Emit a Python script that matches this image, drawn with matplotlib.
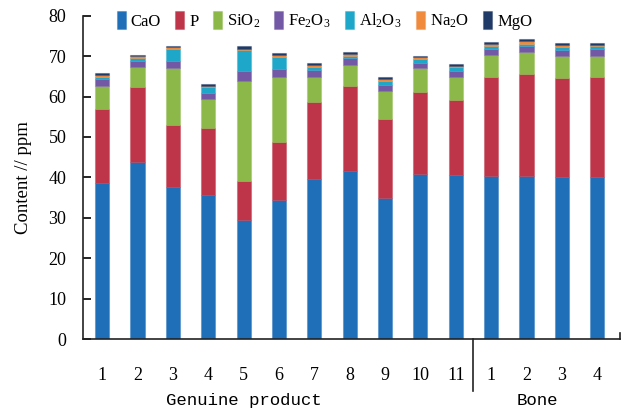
import numpy as np
import matplotlib
matplotlib.use("Agg")
import matplotlib.pyplot as plt
from matplotlib.transforms import blended_transform_factory

plt.rcParams['font.family'] = ['Liberation Serif', 'DejaVu Serif']
plt.rcParams['mathtext.fontset'] = 'custom'
plt.rcParams['mathtext.rm'] = 'Liberation Serif'
plt.rcParams['mathtext.it'] = 'Liberation Serif:italic'

tick_labels = ["1", "2", "3", "4", "5", "6", "7", "8", "9", "10", "11", "1", "2", "3", "4"]
groups = ["Genuine product", "Bone"]
series_names = ["CaO", "P", "SiO$_2$", "Fe$_2$O$_3$", "Al$_2$O$_3$", "Na$_2$O", "MgO"]

CaO   = [38.5, 43.7, 37.7, 35.6, 29.4, 34.4, 39.7, 41.5, 35.0, 40.8, 40.6, 40.4, 40.4, 40.1, 40.1]
P     = [18.3, 18.6, 15.3, 16.6,  9.7, 14.3, 18.9, 21.0, 19.5, 20.2, 18.6, 24.5, 25.2, 24.5, 24.7]
SiO2  = [ 5.8,  5.1, 14.1,  7.1, 24.8, 16.2,  6.3,  5.3,  6.9,  6.1,  5.7,  5.3,  5.3,  5.3,  5.2]
Fe2O3 = [ 1.8,  1.5,  1.6,  1.5,  2.3,  1.9,  1.7,  1.8,  1.5,  1.1,  1.5,  1.6,  1.6,  1.5,  1.7]
Al2O3 = [ 0.5,  0.6,  3.0,  1.5,  5.2,  2.9,  0.8,  0.5,  1.0,  1.1,  0.8,  0.8,  0.5,  0.8,  0.7]
Na2O  = [ 0.5,  0.4,  0.5,  0.3,  0.4,  0.6,  0.4,  0.4,  0.5,  0.4,  0.4,  0.4,  0.7,  0.5,  0.4]
MgO   = [ 0.4,  0.4,  0.4,  0.4,  0.6,  0.4,  0.5,  0.6,  0.4,  0.3,  0.5,  0.5,  0.5,  0.5,  0.5]

series = [CaO, P, SiO2, Fe2O3, Al2O3, Na2O, MgO]
colors = ["#1f6fb8", "#be3448", "#8cb84a", "#7359a5", "#1ea7c9", "#f08a3c", "#203a68"]

fig = plt.figure(figsize=(6.29, 4.12), dpi=100)
ax = fig.add_axes([0.132, 0.177, 0.854, 0.785])

x = np.arange(len(tick_labels))
bottom = np.zeros(len(x))
for name, vals, c in zip(series_names, series, colors):
    v = np.array(vals)
    ax.bar(x, v, width=0.4, bottom=bottom, color=c, label=name,
           edgecolor=matplotlib.colors.to_rgba(c, 0.35), linewidth=0.8)
    bottom += v

ax.set_xlim(-0.54, 14.65)
ax.set_ylim(0, 80)
ax.set_yticks(np.arange(0, 81, 10))
ax.tick_params(axis='y', direction='in', length=6, width=1.2, labelsize=13, pad=12)
ax.set_xticks(x)
ax.set_xticklabels(tick_labels)
ax.tick_params(axis='x', length=0, labelsize=13, pad=20)

for s in ['top', 'right']:
    ax.spines[s].set_visible(False)
for s in ['left', 'bottom']:
    ax.spines[s].set_linewidth(1.2)
    ax.spines[s].set_color('#222222')

ax.set_ylabel("Content // ppm", fontsize=13.5, labelpad=12)

trans = blended_transform_factory(ax.transData, ax.transAxes)
ax.plot([10.5, 10.5], [0, -0.16], transform=trans, color='#222222', lw=1.2, clip_on=False)
ax.plot([1, 1], [0, 0.02], transform=ax.transAxes, color='#222222', lw=1.2, clip_on=False)

ax.text(4, -0.19, groups[0], transform=trans, ha='center', va='center',
        fontsize=12.5, family=['Liberation Mono', 'DejaVu Sans Mono'])
ax.text(12.3, -0.19, groups[1], transform=trans, ha='center', va='center',
        fontsize=12.5, family=['Liberation Mono', 'DejaVu Sans Mono'])

ax.legend(loc='upper left', bbox_to_anchor=(0.05, 1.035), ncol=7, frameon=False,
          fontsize=12, handlelength=0.55, handleheight=1.3, handletextpad=0.3,
          columnspacing=0.85, borderaxespad=0)

fig.savefig("out.png", dpi=100)
